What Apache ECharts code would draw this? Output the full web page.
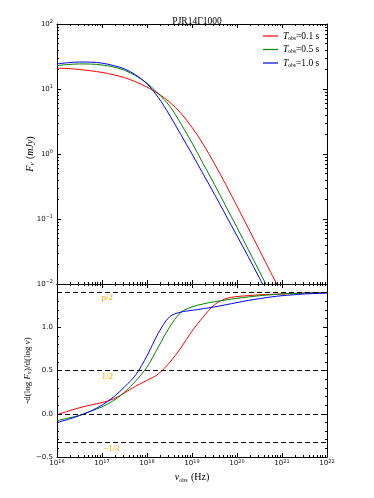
<!DOCTYPE html>
<html>
<head>
<meta charset="utf-8">
<script src="https://cdn.jsdelivr.net/npm/echarts@6/dist/echarts.min.js"></script>
<style>
  html, body { margin: 0; padding: 0; background: #fff; }
  #chart { width: 374px; height: 498px; }
</style>
</head>
<body>
<div id="chart"></div>
<script>
// exponents of nu_obs (Hz) where the curves were read
const logNuTop = [16, 16.25, 16.5, 16.75, 17, 17.25, 17.5, 17.75, 18, 18.25, 18.5,
  18.75, 19, 19.25, 19.5, 19.75, 20, 20.25, 20.5, 20.75, 21]
const logNuBot = [16, 16.25, 16.5, 16.75, 17, 17.25, 17.5, 17.75, 18, 18.25, 18.5,
  18.75, 19, 19.25, 19.5, 19.75, 20, 20.25, 20.5, 20.75, 21, 21.25, 21.5, 21.75, 22]

// F_nu (mJy)
const fluxT01 = [20.9, 20.65, 19.95, 19.05, 17.99, 16.6, 14.96, 12.88, 10.72, 8.51, 6.31,
  4.27, 2.57, 1.413, 0.708, 0.339, 0.158, 0.0724, 0.0331, 0.0151, 0.00692]
const fluxT05 = [22.9, 23.8, 24.3, 24.2, 23.4, 21.9, 19.4, 16.0, 12.3, 8.47, 5.50,
  2.95, 1.48, 0.708, 0.339, 0.158, 0.0741, 0.0339, 0.0155, 0.0071]
const fluxT10 = [24.3, 25.4, 26.0, 25.9, 25.0, 23.0, 20.4, 16.4, 12.0, 7.41, 3.98,
  2.00, 1.00, 0.490, 0.240, 0.115, 0.0550, 0.0263, 0.0123, 0.0058]

// -d(log F)/d(log nu)
const slopeT01 = [-0.01, 0.03, 0.07, 0.10, 0.13, 0.17, 0.24, 0.32, 0.385, 0.46, 0.59,
  0.76, 0.955, 1.12, 1.26, 1.33, 1.355, 1.365, 1.375, 1.38, 1.385, 1.39, 1.395, 1.398, 1.40]
const slopeT05 = [-0.08, -0.05, -0.02, 0.03, 0.08, 0.15, 0.25, 0.38, 0.54, 0.77, 1.00,
  1.17, 1.235, 1.27, 1.295, 1.315, 1.335, 1.35, 1.365, 1.375, 1.385, 1.39, 1.395, 1.398, 1.40]
const slopeT10 = [-0.10, -0.065, -0.02, 0.03, 0.10, 0.19, 0.31, 0.45, 0.67, 0.93, 1.12,
  1.175, 1.195, 1.215, 1.235, 1.26, 1.285, 1.31, 1.33, 1.35, 1.365, 1.375, 1.385, 1.39, 1.395]

const refLines = [1.4, 0.5, 0, -1 / 3]
const refLabels = ['p/2', '1/2', '\u22121/3']

const xTickExp = [16, 17, 18, 19, 20, 21, 22]
const yTopTickExp = [-2, -1, 0, 1, 2]
const yBotTicks = [-0.5, 0, 0.5, 1.0, 1.5]
const yBotLabels = [-0.5, 0, 0.5, 1.0]

const names = ['0.1', '0.5', '1.0']
const colors = ['#ff0000', '#008000', '#0000ff']

const decades = (exps) => exps.map((e) => Math.pow(10, e))
const minorLog = (lo, hi) => {
  const out = []
  for (let e = lo; e < hi; e++) for (let k = 2; k <= 9; k++) out.push(k * Math.pow(10, e))
  return out
}
const minorLin = []
for (let i = -5; i <= 15; i++) minorLin.push(i / 10)

const pair = (xs, ys) => ys.map((y, i) => [Math.pow(10, xs[i]), y])

const tickRich = {
  b: { fontSize: 7, fontFamily: 'DejaVu Sans', color: '#111', lineHeight: 9 },
  sup: { fontSize: 5, fontFamily: 'DejaVu Sans', color: '#111', verticalAlign: 'top', lineHeight: 5 }
}
const logLabel = (v) => {
  const e = Math.round(Math.log10(v))
  return '{b|10}{sup|' + String(e).replace('-', '\u2212') + '}'
}
const serif = 'Liberation Serif'
const nameRich = {
  i: { fontFamily: serif, fontStyle: 'italic', fontSize: 10, color: '#000', lineHeight: 12 },
  n: { fontFamily: serif, fontSize: 10, color: '#000', lineHeight: 12 },
  s: { fontFamily: serif, fontStyle: 'italic', fontSize: 7, color: '#000', verticalAlign: 'bottom', lineHeight: 9 },
  so: { fontFamily: serif, fontSize: 6, color: '#000', verticalAlign: 'bottom', lineHeight: 8 }
}

const black = { color: '#000', width: 1 }
const noLine = { show: false, onZero: false }
function xAx(grid, pos, values, len, opts) {
  return Object.assign({
    type: 'log', logBase: 10, gridIndex: grid, position: pos,
    min: 1e16, max: 1e22,
    axisLine: { show: true, onZero: false, lineStyle: black },
    axisTick: { show: true, inside: true, length: len, customValues: values, lineStyle: black },
    axisLabel: { show: false },
    splitLine: { show: false }
  }, opts || {})
}
function yAxLog(pos, values, len, opts) {
  return Object.assign({
    type: 'log', logBase: 10, gridIndex: 0, position: pos,
    min: 0.01, max: 100,
    axisLine: { show: true, onZero: false, lineStyle: black },
    axisTick: { show: true, inside: true, length: len, customValues: values, lineStyle: black },
    axisLabel: { show: false },
    splitLine: { show: false }
  }, opts || {})
}
function yAxLin(pos, values, len, opts) {
  return Object.assign({
    type: 'value', gridIndex: 1, position: pos,
    min: -0.5, max: 1.5,
    axisLine: { show: true, onZero: false, lineStyle: black },
    axisTick: { show: true, inside: true, length: len, customValues: values, lineStyle: black },
    axisLabel: { show: false },
    splitLine: { show: false }
  }, opts || {})
}

const chart = echarts.init(document.getElementById('chart'))

const topSeries = [fluxT01, fluxT05, fluxT10].map((d, i) => ({
  name: names[i], type: 'line', xAxisIndex: 0, yAxisIndex: 0,
  data: pair(logNuTop, d), symbol: 'none', smooth: 0.35,
  lineStyle: { color: colors[i], width: 1 }, itemStyle: { color: colors[i] }
}))
const botSeries = [slopeT01, slopeT05, slopeT10].map((d, i) => ({
  name: names[i], type: 'line', xAxisIndex: 4, yAxisIndex: 4,
  data: pair(logNuBot, d), symbol: 'none', smooth: 0.35,
  lineStyle: { color: colors[i], width: 1 }, itemStyle: { color: colors[i] }
}))
botSeries[0].markLine = {
  silent: true, symbol: ['none', 'none'], animation: false,
  label: { show: false },
  lineStyle: { color: '#000', width: 1, type: [5, 3] },
  data: refLines.map((v) => ({ yAxis: v }))
}
botSeries[0].markPoint = {
  silent: true, symbol: 'circle', symbolSize: 0, animation: false,
  label: { show: true, position: 'inside', color: '#ffa500', fontFamily: serif, fontSize: 9 },
  data: [
    { coord: [1.3e17, 1.345], label: { formatter: refLabels[0] } },
    { coord: [1.3e17, 0.43], label: { formatter: refLabels[1] } },
    { coord: [1.6e17, -0.40], label: { formatter: refLabels[2] } }
  ]
}

chart.setOption({
  animation: false,
  title: {
    text: 'PJR14\u03931000', left: 192, top: 11, textAlign: 'center',
    textStyle: { fontFamily: serif, fontSize: 9.5, fontWeight: 'normal', color: '#000' }
  },
  legend: {
    data: names, orient: 'vertical', left: 258, top: 26, itemWidth: 15, itemHeight: 1.2, itemGap: 3,
    icon: 'rect',
    formatter: (n) => '{i|T}{so|obs}{n|=' + n + ' s}',
    textStyle: { rich: {
      i: { fontFamily: serif, fontStyle: 'italic', fontSize: 9.5, color: '#000', lineHeight: 11 },
      n: { fontFamily: serif, fontSize: 9.5, color: '#000', lineHeight: 11 },
      so: { fontFamily: serif, fontSize: 5.5, color: '#000', verticalAlign: 'bottom', lineHeight: 7 }
    } }
  },
  grid: [
    { left: 57, top: 24, width: 270, height: 260 },
    { left: 57, top: 284, width: 270, height: 173 }
  ],
  xAxis: [
    xAx(0, 'bottom', decades(xTickExp), 4),
    xAx(0, 'bottom', minorLog(16, 22), 2, { axisLine: noLine }),
    xAx(0, 'top', decades(xTickExp), 4),
    xAx(0, 'top', minorLog(16, 22), 2, { axisLine: noLine }),
    xAx(1, 'bottom', decades(xTickExp), 4, {
      axisLabel: { show: true, margin: 2, customValues: decades(xTickExp), formatter: logLabel, rich: tickRich },
      name: '{i|\u03bd}{so|obs} {n|(Hz)}', nameLocation: 'middle', nameGap: 14, nameMoveOverlap: false,
      nameTextStyle: { rich: nameRich }
    }),
    xAx(1, 'bottom', minorLog(16, 22), 2, { axisLine: noLine }),
    xAx(1, 'top', decades(xTickExp), 4),
    xAx(1, 'top', minorLog(16, 22), 2, { axisLine: noLine })
  ],
  yAxis: [
    yAxLog('left', decades(yTopTickExp), 4, {
      axisLabel: { show: true, margin: 4, customValues: decades(yTopTickExp), formatter: logLabel, rich: tickRich },
      name: '{i|F}{s|\u03bd} {n|(}{i|mJy}{n|)}', nameLocation: 'middle', nameGap: 21, nameRotate: 90,
      nameMoveOverlap: false,
      nameTextStyle: { rich: nameRich }
    }),
    yAxLog('left', minorLog(-2, 2), 2, { axisLine: noLine }),
    yAxLog('right', decades(yTopTickExp), 4),
    yAxLog('right', minorLog(-2, 2), 2, { axisLine: noLine }),
    yAxLin('left', yBotTicks, 4, {
      axisLabel: { show: true, margin: 4, customValues: yBotLabels,
        formatter: (v) => v.toFixed(1).replace('-', '\u2212'),
        fontSize: 7, fontFamily: 'DejaVu Sans', color: '#111' },
      name: '{n|-d(log }{i|F}{s|\u03bd}{n|)/d(log }{i|\u03bd}{n|)}', nameLocation: 'middle', nameGap: 24, nameRotate: 90,
      nameMoveOverlap: false,
      nameTextStyle: { rich: {
        i: { fontFamily: serif, fontStyle: 'italic', fontSize: 9, color: '#000', lineHeight: 11 },
        n: { fontFamily: serif, fontSize: 9, color: '#000', lineHeight: 11 },
        s: { fontFamily: serif, fontStyle: 'italic', fontSize: 6.5, color: '#000', verticalAlign: 'bottom', lineHeight: 8 }
      } }
    }),
    yAxLin('left', minorLin, 2, { axisLine: noLine }),
    yAxLin('right', yBotTicks, 4),
    yAxLin('right', minorLin, 2, { axisLine: noLine })
  ],
  series: topSeries.concat(botSeries)
})
</script>
</body>
</html>
